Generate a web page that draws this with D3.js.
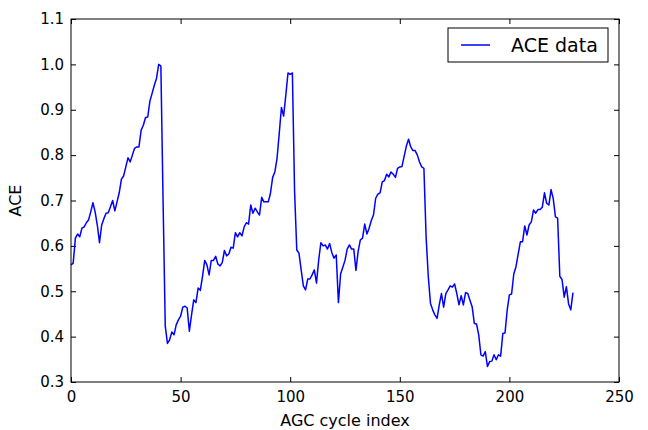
<!DOCTYPE html>
<html>
<head>
<meta charset="utf-8">
<script src="https://cdn.jsdelivr.net/npm/d3@7"></script>
<style>
  body { margin: 0; background: #fff; }
  text { font-family: "DejaVu Sans", sans-serif; fill: #000; }
</style>
</head>
<body>
<div id="vis-container"></div>
<script>
// ACE per AGC cycle, index 0..229
let ace = [
  0.558, 0.562, 0.617, 0.626, 0.620, 0.639, 0.642, 0.651, 0.657, 0.675,
  0.695, 0.675, 0.646, 0.607, 0.646, 0.660, 0.672, 0.673, 0.686, 0.700,
  0.677, 0.697, 0.717, 0.747, 0.754, 0.774, 0.794, 0.785, 0.800, 0.815,
  0.818, 0.818, 0.855, 0.866, 0.883, 0.884, 0.919, 0.936, 0.954, 0.969,
  1.000, 0.996, 0.700, 0.423, 0.385, 0.393, 0.410, 0.404, 0.426, 0.437,
  0.445, 0.465, 0.467, 0.463, 0.412, 0.448, 0.481, 0.475, 0.507, 0.502,
  0.533, 0.568, 0.558, 0.536, 0.568, 0.568, 0.577, 0.560, 0.556, 0.563,
  0.590, 0.578, 0.582, 0.597, 0.595, 0.629, 0.620, 0.629, 0.622, 0.642,
  0.651, 0.648, 0.690, 0.672, 0.683, 0.675, 0.668, 0.707, 0.697, 0.697,
  0.697, 0.716, 0.751, 0.763, 0.793, 0.848, 0.905, 0.886, 0.932, 0.981,
  0.978, 0.981, 0.720, 0.591, 0.584, 0.547, 0.512, 0.503, 0.527, 0.527,
  0.536, 0.547, 0.518, 0.569, 0.607, 0.600, 0.602, 0.593, 0.605, 0.585,
  0.573, 0.580, 0.475, 0.538, 0.553, 0.568, 0.593, 0.602, 0.593, 0.593,
  0.546, 0.588, 0.613, 0.617, 0.648, 0.626, 0.639, 0.656, 0.668, 0.705,
  0.714, 0.717, 0.741, 0.744, 0.758, 0.752, 0.763, 0.758, 0.751, 0.771,
  0.774, 0.775, 0.798, 0.820, 0.835, 0.818, 0.810, 0.810, 0.800, 0.785,
  0.774, 0.771, 0.620, 0.532, 0.473, 0.459, 0.448, 0.440, 0.470, 0.495,
  0.465, 0.495, 0.503, 0.512, 0.509, 0.516, 0.495, 0.470, 0.490, 0.470,
  0.497, 0.495, 0.480, 0.466, 0.429, 0.428, 0.404, 0.360, 0.357, 0.367,
  0.334, 0.345, 0.346, 0.360, 0.349, 0.360, 0.357, 0.407, 0.408, 0.459,
  0.492, 0.494, 0.538, 0.554, 0.582, 0.609, 0.609, 0.644, 0.624, 0.646,
  0.653, 0.679, 0.672, 0.680, 0.680, 0.685, 0.717, 0.694, 0.690, 0.724,
  0.704, 0.664, 0.661, 0.533, 0.526, 0.487, 0.510, 0.472, 0.459, 0.497
];

let xTicks = [0, 50, 100, 150, 200, 250];
let yTicks = [0.3, 0.4, 0.5, 0.6, 0.7, 0.8, 0.9, 1.0, 1.1];
let seriesName = "ACE data";

//margins
let margin = {top:19, right:29, bottom:48, left:71};
let width = 648 - margin.left - margin.right;
let height = 430 - margin.top - margin.bottom;

let svg = d3.select("#vis-container")
  .append("svg")
  .attr("width", 648)
  .attr("height", 430);

let g = svg.append("g")
  .attr("transform", `translate(${margin.left}, ${margin.top})`);

//scales
let x = d3.scaleLinear().domain([0, 250]).range([0, width]);
let y = d3.scaleLinear().domain([0.3, 1.1]).range([height, 0]);

//axes, ticks pointing inward
let xAxis = d3.axisBottom(x).tickValues(xTicks).tickSizeInner(-5).tickSizeOuter(0).tickPadding(9);
let yAxis = d3.axisLeft(y).tickValues(yTicks).tickSizeInner(-5).tickSizeOuter(0).tickPadding(7)
  .tickFormat(d3.format(".1f"));

g.append("g").attr("transform", `translate(0,${height})`).call(xAxis);
g.append("g").call(yAxis);
g.append("g").call(d3.axisTop(x).tickValues(xTicks).tickSizeInner(-5).tickSizeOuter(0).tickFormat(""));
g.append("g").attr("transform", `translate(${width},0)`)
  .call(d3.axisRight(y).tickValues(yTicks).tickSizeInner(-5).tickSizeOuter(0).tickFormat(""));

g.selectAll(".tick text").attr("font-size", "15px").attr("font-family", "DejaVu Sans");
g.selectAll(".domain").remove();

//line
let line = d3.line()
  .x((d, i) => x(i))
  .y(d => y(d));

g.append("path")
  .datum(ace)
  .attr("fill", "none")
  .attr("stroke", "#0000ff")
  .attr("stroke-width", 1.5)
  .attr("stroke-linejoin", "round")
  .attr("d", line);

//frame
g.append("rect")
  .attr("width", width)
  .attr("height", height)
  .attr("fill", "none")
  .attr("stroke", "#000")
  .attr("stroke-width", 1);

//axis labels
g.append("text")
  .attr("x", width / 2)
  .attr("y", height + 44)
  .attr("font-size", "16px")
  .attr("text-anchor", "middle")
  .text("AGC cycle index");

g.append("text")
  .attr("x", -height / 2)
  .attr("y", -50)
  .attr("font-size", "16px")
  .attr("text-anchor", "middle")
  .attr("transform", "rotate(-90)")
  .text("ACE");

//legend
let legend = g.append("g").attr("transform", `translate(${448 - margin.left}, ${28 - margin.top})`);
legend.append("rect")
  .attr("width", 160)
  .attr("height", 34)
  .attr("fill", "#fff")
  .attr("stroke", "#000")
  .attr("stroke-width", 1);
legend.append("line")
  .attr("x1", 13).attr("x2", 42)
  .attr("y1", 17).attr("y2", 17)
  .attr("stroke", "#0000ff")
  .attr("stroke-width", 1.5);
legend.append("text")
  .attr("x", 63)
  .attr("y", 24)
  .attr("font-size", "19px")
  .text(seriesName);
</script>
</body>
</html>
